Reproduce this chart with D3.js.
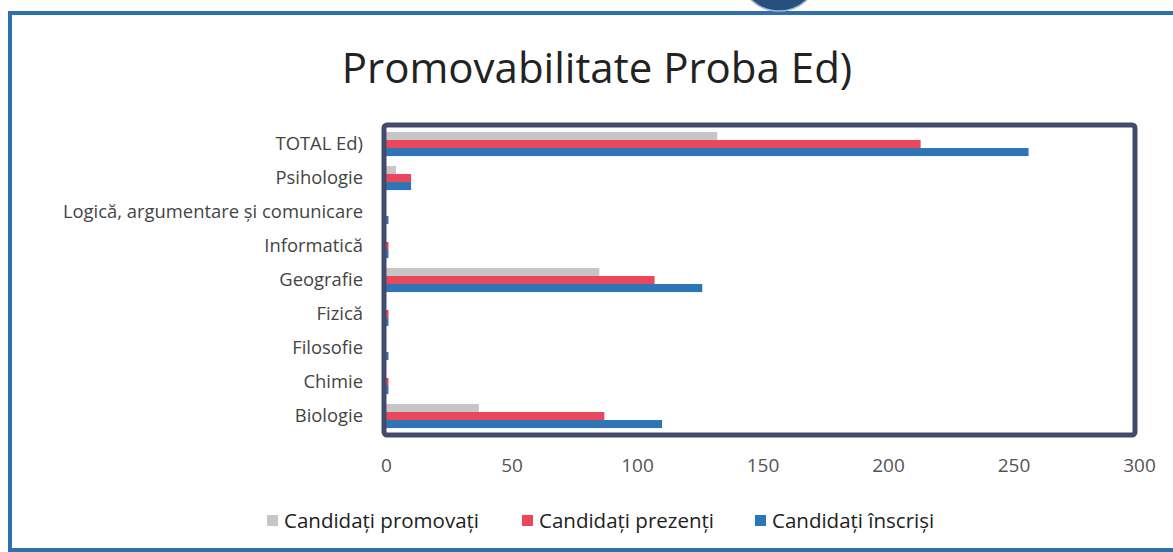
<!DOCTYPE html>
<html>
<head>
<meta charset="utf-8">
<script src="https://cdn.jsdelivr.net/npm/d3@7"></script>
<style>
  html, body { margin: 0; padding: 0; background: #fff; }
  svg { display: block; }
</style>
</head>
<body>
<svg id="chart" width="1173" height="552"></svg>
<script>
// Categories, top to bottom
const categories = [
  "TOTAL Ed)",
  "Psihologie",
  "Logică, argumentare și comunicare",
  "Informatică",
  "Geografie",
  "Fizică",
  "Filosofie",
  "Chimie",
  "Biologie"
];

// Series values per category
const promovati = [132, 4, 0, 0, 85, 0, 0, 0, 37];
const prezenti  = [213, 10, 0, 1, 107, 1, 0, 1, 87];
const inscrisi  = [256, 10, 1, 1, 126, 1, 1, 1, 110];

const seriesNames = ["Candidați promovați", "Candidați prezenți", "Candidați înscriși"];
const seriesColors = ["#c6c6c6", "#e9475c", "#2e75b6"];
const xTicks = [0, 50, 100, 150, 200, 250, 300];

const series = [promovati, prezenti, inscrisi];

const svg = d3.select("#chart");
const W = 1173, H = 552;
const font = "'Open Sans', 'DejaVu Sans', sans-serif";

// Slide frame
svg.append("path")
  .attr("d", `M ${W + 5} 13 L 10 13 L 10 550 L ${W + 5} 550`)
  .attr("fill", "none")
  .attr("stroke", "#2f6fae")
  .attr("stroke-width", 4);

// Emblem peeking over the top edge
svg.append("ellipse")
  .attr("cx", 779).attr("cy", -22)
  .attr("rx", 37).attr("ry", 33)
  .attr("fill", "#27507e")
  .attr("stroke", "#9fb6cf")
  .attr("stroke-width", 1.5);

// Title
svg.append("text")
  .attr("x", 597).attr("y", 83)
  .attr("text-anchor", "middle")
  .attr("font-family", font)
  .attr("font-size", 42)
  .attr("fill", "#222")
  .text("Promovabilitate Proba Ed)");

// Scales
const x = d3.scaleLinear().domain([0, 300]).range([386, 1139]);
const y = d3.scaleBand().domain(categories).range([127, 433]).paddingInner(0.29).paddingOuter(0.145);
const ySub = d3.scaleBand().domain(d3.range(series.length)).range([0, y.bandwidth()]);

// Bars
series.forEach((vals, si) => {
  svg.append("g")
    .selectAll("rect")
    .data(categories.map((c, i) => ({ c, v: vals[i] })))
    .join("rect")
    .attr("x", x(0))
    .attr("y", d => y(d.c) + ySub(si))
    .attr("width", d => Math.max(0, x(d.v) - x(0)))
    .attr("height", ySub.bandwidth())
    .attr("fill", seriesColors[si]);
});

// Plot frame
svg.append("rect")
  .attr("x", 384).attr("y", 125)
  .attr("width", 751).attr("height", 310)
  .attr("rx", 3)
  .attr("fill", "none")
  .attr("stroke", "#434b6c")
  .attr("stroke-width", 5);

// Category axis
const yAxis = svg.append("g")
  .attr("transform", "translate(372,0)")
  .call(d3.axisLeft(y).tickSize(0).tickPadding(9));
yAxis.select(".domain").remove();
yAxis.selectAll("text")
  .attr("font-family", font)
  .attr("font-size", 18.4)
  .attr("fill", "#444");

// Value axis
const xAxis = svg.append("g")
  .attr("transform", "translate(0,451)")
  .call(d3.axisBottom(x).tickValues(xTicks).tickSize(0).tickPadding(8));
xAxis.select(".domain").remove();
xAxis.selectAll("text")
  .attr("font-family", font)
  .attr("font-size", 19)
  .attr("fill", "#555");

// Legend
const legendX = [267, 522, 755];
const legend = svg.append("g");
seriesNames.forEach((name, i) => {
  const g = legend.append("g").attr("transform", `translate(${legendX[i]},521)`);
  g.append("rect")
    .attr("x", 0).attr("y", -6)
    .attr("width", 11).attr("height", 11)
    .attr("fill", seriesColors[i]);
  g.append("text")
    .attr("x", 17).attr("y", 7)
    .attr("font-family", font)
    .attr("font-size", 20.5)
    .attr("fill", "#222")
    .text(name);
});
</script>
</body>
</html>
